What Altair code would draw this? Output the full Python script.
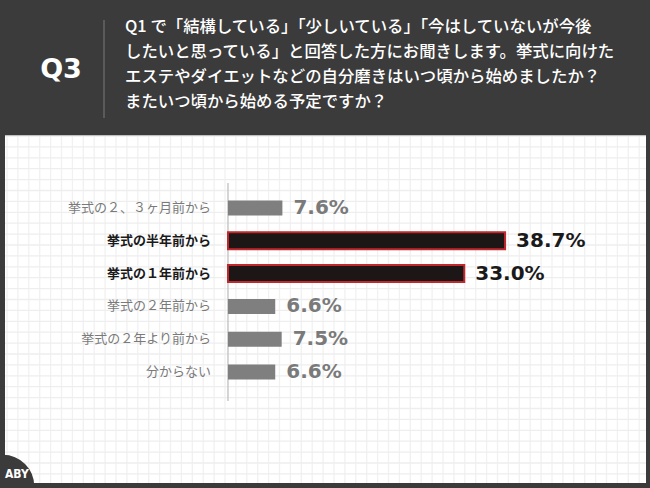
import altair as alt
import pandas as pd

categories = ["挙式の２、３ヶ月前から", "挙式の半年前から", "挙式の１年前から",
              "挙式の２年前から", "挙式の２年より前から", "分からない"]
values = [7.6, 38.7, 33.0, 6.6, 7.5, 6.6]
highlight = [False, True, True, False, False, False]
question_lines = [
    "Q1 で「結構している」「少しいている」「今はしていないが今後",
    "したいと思っている」と回答した方にお聞きします。挙式に向けた",
    "エステやダイエットなどの自分磨きはいつ頃から始めましたか？",
    "またいつ頃から始める予定ですか？",
]
q_label = "Q3"
logo = "ABY"

BG = "#3b3b3b"
JP = "Noto Sans CJK JP"

df = pd.DataFrame({"cat": categories, "value": values, "hl": highlight})
one = pd.DataFrame({"a": [0]})

panel = alt.Chart(one).mark_rect(color="white").encode(
    x=alt.value(5), x2=alt.value(646), y=alt.value(136), y2=alt.value(483))

vgrid = alt.Chart(alt.sequence(0, 59, as_="i")).transform_calculate(
    px="datum.i * 10.9 + 7").mark_rule(color="#f1f1f1", strokeWidth=1.3).encode(
    x=alt.X("px:Q", scale=alt.Scale(domain=[0, 650], nice=False, zero=False), axis=None),
    y=alt.value(136), y2=alt.value(483))

hgrid = alt.Chart(alt.sequence(0, 32, as_="i")).transform_calculate(
    py="datum.i * 10.9 + 136").mark_rule(color="#eeeeee", strokeWidth=1.3).encode(
    y=alt.Y("py:Q", scale=alt.Scale(domain=[0, 488], reverse=True, nice=False, zero=False), axis=None),
    x=alt.value(5), x2=alt.value(646))

q3 = alt.Chart(one).mark_text(text=q_label, font="DejaVu Sans", fontWeight="bold",
                              fontSize=27, color="white", align="center",
                              baseline="middle").encode(x=alt.value(61), y=alt.value(70))
vline = alt.Chart(one).mark_rule(color="#7a7a7a", strokeWidth=1).encode(
    x=alt.value(104), y=alt.value(20), y2=alt.value(118))
qtext = alt.Chart(one).mark_text(text=question_lines, font=JP, fontWeight=500, fontSize=16.4,
                                 lineHeight=25, color="white", align="left",
                                 baseline="top").encode(x=alt.value(125), y=alt.value(19))

logo_bg = alt.Chart(one).mark_circle(size=3900, color=BG, opacity=1).encode(
    x=alt.value(3), y=alt.value(486))
logo_t = alt.Chart(one).mark_text(text=logo, font="DejaVu Sans Condensed", fontSize=12,
                                  fontWeight="bold", color="white", align="left",
                                  baseline="middle").encode(
    x=alt.value(5), y=alt.value(474))

X = alt.X("value:Q", scale=alt.Scale(domain=[-31.84, 58.94], nice=False, zero=False), axis=None)
Y = alt.Y("cat:N", sort=categories,
          scale=alt.Scale(domain=categories, range=[191.6, 388.4], paddingInner=0, paddingOuter=0),
          axis=None)

base = alt.Chart(df).transform_calculate(label="format(datum.value, '.1f') + '%'")

axis_rule = alt.Chart(one).mark_rule(color="#c8c8c8", strokeWidth=1.5).encode(
    x=alt.X(datum=0, scale=alt.Scale(domain=[-31.84, 58.94], nice=False, zero=False), axis=None),
    y=alt.value(183), y2=alt.value(401))

gray_bars = base.transform_filter("!datum.hl").mark_bar(height=15, color="#7f7f7f").encode(
    x=X, x2=alt.datum(0), y=Y)
dark_bars = base.transform_filter("datum.hl").mark_bar(
    height=17, color="#1c1616", stroke="#c0282d", strokeWidth=2).encode(x=X, x2=alt.datum(0), y=Y)

gray_lab = base.transform_filter("!datum.hl").mark_text(
    align="right", baseline="middle", font=JP, fontSize=13, color="#7a7a7a").encode(
    x=alt.value(211), y=Y, text="cat:N")
dark_lab = base.transform_filter("datum.hl").mark_text(
    align="right", baseline="middle", font=JP, fontSize=13, fontWeight="bold",
    color="#1a1a1a").encode(x=alt.value(211), y=Y, text="cat:N")

gray_val = base.transform_filter("!datum.hl").mark_text(
    align="left", baseline="middle", dx=11, font="DejaVu Sans", fontWeight="bold",
    fontSize=20, color="#7a7a7a").encode(x=X, y=Y, text="label:N")
dark_val = base.transform_filter("datum.hl").mark_text(
    align="left", baseline="middle", dx=11, font="DejaVu Sans", fontWeight="bold",
    fontSize=20, color="#1a1a1a").encode(x=X, y=Y, text="label:N")

bars = alt.layer(axis_rule, gray_bars, dark_bars, gray_lab, dark_lab, gray_val, dark_val)

chart = alt.layer(panel, vgrid, hgrid, q3, vline, qtext, logo_bg, logo_t, bars).resolve_scale(
    x="independent", y="independent").properties(
    width=650, height=488, autosize="none", padding=0, background=BG
).configure_view(stroke=None)

chart.save("out.html", embed_options={"renderer": "svg", "actions": False})
